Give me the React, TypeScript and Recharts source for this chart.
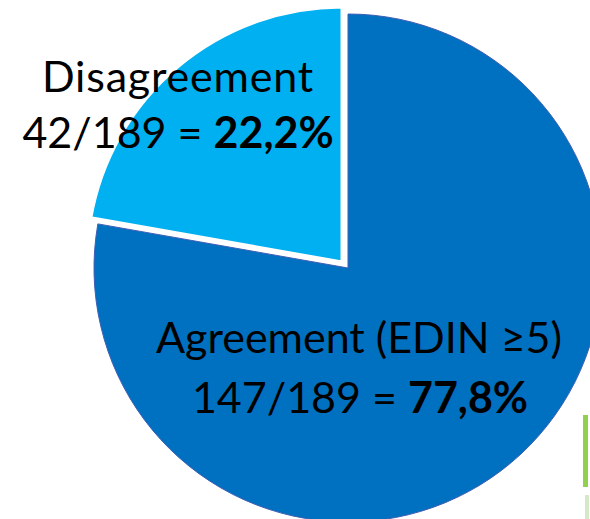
import { Cell, Pie, PieChart } from "recharts"

const categories = ["Agreement (EDIN ≥5)", "Disagreement"]
const counts = [147, 42]
const total = 189
const percentLabels = ["77,8%", "22,2%"]
const colors = ["#0070C0", "#00B0F0"]

const data = categories.map((name, i) => ({ name, value: counts[i] }))

const font = "Lato, 'Liberation Sans', sans-serif"

export default function App() {
  return (
    <div style={{ position: "absolute", left: 0, top: 0, width: 590, height: 519, overflow: "hidden", background: "#fff" }}>
      <PieChart width={590} height={519} margin={{ top: 0, right: 0, bottom: 0, left: 0 }}>
        {/* agreement slice */}
        <Pie
          data={data}
          dataKey="value"
          cx={348}
          cy={268}
          outerRadius={254}
          startAngle={90}
          endAngle={-270}
          isAnimationActive={false}
        >
          {data.map((d, i) => (
            <Cell
              key={d.name}
              fill={i === 0 ? colors[0] : "none"}
              stroke={i === 0 ? "#3F5FB5" : "none"}
              strokeWidth={1}
            />
          ))}
        </Pie>
        {/* disagreement slice, pulled out a little */}
        <Pie
          data={data}
          dataKey="value"
          cx={342}
          cy={262}
          outerRadius={255}
          startAngle={90}
          endAngle={-270}
          isAnimationActive={false}
        >
          {data.map((d, i) => (
            <Cell
              key={d.name}
              fill={i === 1 ? colors[1] : "none"}
              stroke={i === 1 ? "#fff" : "none"}
              strokeWidth={3}
            />
          ))}
        </Pie>
      </PieChart>
      <svg width={590} height={519} style={{ position: "absolute", left: 0, top: 0, pointerEvents: "none" }}>
        <g fontFamily={font} fontSize={43} fill="#000" textAnchor="middle">
          <text x={178} y={92} letterSpacing={0.8}>Disagreement</text>
          <text x={178} y={148}>
            {counts[1]}/{total} = <tspan fontWeight="bold">{percentLabels[1]}</tspan>
          </text>
          <text x={359} y={353}>{categories[0]}</text>
          <text x={360} y={413}>
            {counts[0]}/{total} = <tspan fontWeight="bold">{percentLabels[0]}</tspan>
          </text>
        </g>
        <rect x={583} y={415} width={5} height={72} fill="#92D050" />
        <rect x={585} y={495} width={4} height={24} fill="#D5E8C8" />
      </svg>
    </div>
  )
}
